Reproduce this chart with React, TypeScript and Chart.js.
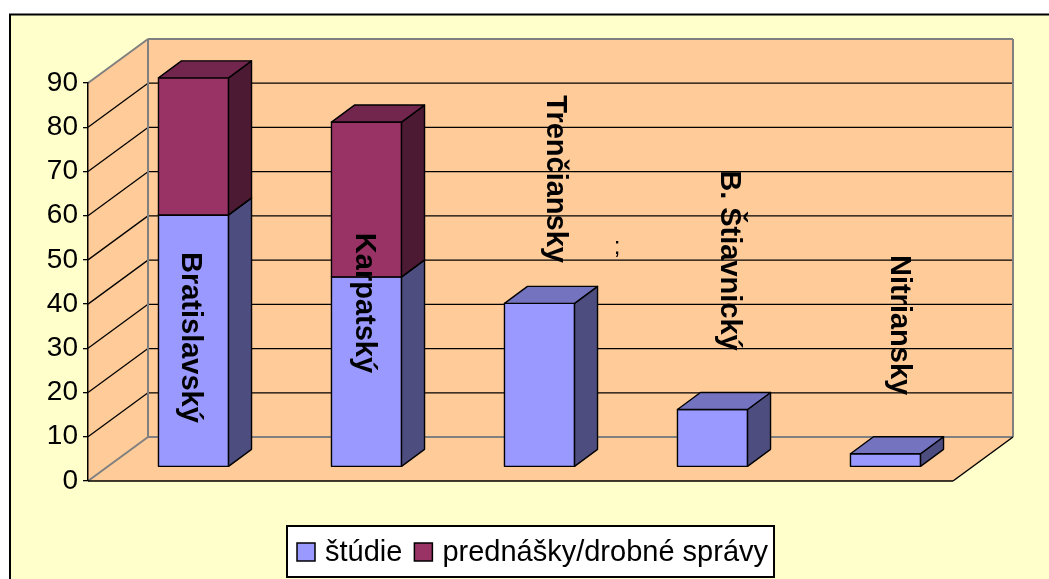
import React, { useEffect, useRef } from "react";
import { Chart, registerables } from "chart.js";

Chart.register(...registerables);

// ---- data ----
const categories = ["Bratislavský", "Karpatský", "Trenčiansky", "B. Štiavnický", "Nitriansky"];
const seriesNames = ["štúdie", "prednášky/drobné správy"];
const studieValues = [57, 43, 37, 13, 3];
const prednaskyValues = [31, 35, 0, 0, 0];
const yMin = 0;
const yMax = 90;
const yStep = 10;

// ---- placement / style constants ----
const W = 1049;
const H = 579;
const FONT = '"Liberation Sans", Arial, Helvetica, sans-serif';
const DEPTH = { x: 60, y: -44 }; // full floor depth
const BAR_FRONT = { x: 19, y: -14 }; // offset of bar front plane
const BAR_DEPTH = { x: 23, y: -17 }; // bar thickness
const WALL = "#FFCC99";
const BG = "#FFFFCC";
const EDGE_GRAY = "#808080";
const faceColors = [
  { front: "#9999FF", top: "#7373BF", side: "#4D4D80" },
  { front: "#993366", top: "#73264D", side: "#4D1A33" },
];
// category label placement (value units on bar plane, horizontal shift in px)
const labelAnchorValue = [29.3, 37.1, 65.1, 46.7, 32.1];
const labelShift = [-11.5, -10.5, 7.5, 8.5, 5.5];
const strayMark = { index: 2, text: ";", dx: 77.5, value: 48.2 };

function poly(ctx: CanvasRenderingContext2D, pts: number[][]) {
  ctx.beginPath();
  ctx.moveTo(pts[0][0], pts[0][1]);
  for (let i = 1; i < pts.length; i++) ctx.lineTo(pts[i][0], pts[i][1]);
  ctx.closePath();
}

function line(ctx: CanvasRenderingContext2D, x1: number, y1: number, x2: number, y2: number) {
  ctx.beginPath();
  ctx.moveTo(x1, y1);
  ctx.lineTo(x2, y2);
  ctx.stroke();
}

const scenePlugin = {
  id: "scene3d",
  beforeDraw(chart: any) {
    const ctx: CanvasRenderingContext2D = chart.ctx;
    const { left, right, top, bottom } = chart.chartArea;
    const yS = chart.scales.y;
    const dx = DEPTH.x;
    const dy = DEPTH.y;
    ctx.save();
    ctx.fillStyle = "#FFFFFF";
    ctx.fillRect(0, 0, W, H);
    // outer frame
    ctx.fillStyle = BG;
    ctx.fillRect(10, 14.5, W + 20, H + 20);
    ctx.strokeStyle = "#000";
    ctx.lineWidth = 2;
    ctx.strokeRect(10, 14.5, W + 20, H + 20);

    // walls + floor
    ctx.fillStyle = WALL;
    ctx.fillRect(left + dx, top + dy, right - left, bottom - top);
    poly(ctx, [[left, top], [left + dx, top + dy], [left + dx, bottom + dy], [left, bottom]]);
    ctx.fill();
    poly(ctx, [[left, bottom], [right, bottom], [right + dx, bottom + dy], [left + dx, bottom + dy]]);
    ctx.fill();

    // gridlines
    ctx.strokeStyle = "#000";
    ctx.lineWidth = 1.3;
    for (let v = yMin + yStep; v < yMax; v += yStep) {
      const y = yS.getPixelForValue(v);
      line(ctx, left, y, left + dx, y + dy);
      line(ctx, left + dx, y + dy, right + dx, y + dy);
    }

    // gray wall edges
    ctx.strokeStyle = EDGE_GRAY;
    ctx.lineWidth = 2;
    line(ctx, left, top, left + dx, top + dy);
    line(ctx, left + dx, top + dy, right + dx, top + dy);
    line(ctx, right + dx, top + dy, right + dx, bottom + dy);
    line(ctx, left + dx, bottom + dy, right + dx, bottom + dy);
    line(ctx, left + dx, top + dy, left + dx, bottom + dy);
    line(ctx, left, bottom, left + dx, bottom + dy);

    // floor front edges
    ctx.strokeStyle = "#000";
    ctx.lineWidth = 1.5;
    line(ctx, left, bottom, right, bottom);
    line(ctx, right, bottom, right + dx, bottom + dy);
    ctx.restore();
  },
  beforeDatasetsDraw(chart: any) {
    const ctx: CanvasRenderingContext2D = chart.ctx;
    const yS = chart.scales.y;
    ctx.save();
    ctx.lineWidth = 1.4;
    ctx.lineJoin = "round";
    ctx.strokeStyle = "#000";
    const n = chart.data.labels.length;
    for (let i = 0; i < n; i++) {
      chart.data.datasets.forEach((ds: any, di: number) => {
        const val = ds.data[i];
        if (!val) return;
        const el = chart.getDatasetMeta(di).data[i];
        const c = faceColors[di];
        const x0 = el.x - el.width / 2 + BAR_FRONT.x;
        const x1 = el.x + el.width / 2 + BAR_FRONT.x;
        const yt = el.y + BAR_FRONT.y;
        const yb = el.base + BAR_FRONT.y;
        const bx = BAR_DEPTH.x;
        const by = BAR_DEPTH.y;
        // front
        ctx.fillStyle = c.front;
        poly(ctx, [[x0, yt], [x1, yt], [x1, yb], [x0, yb]]);
        ctx.fill();
        ctx.stroke();
        // side
        ctx.fillStyle = c.side;
        poly(ctx, [[x1, yt], [x1 + bx, yt + by], [x1 + bx, yb + by], [x1, yb]]);
        ctx.fill();
        ctx.stroke();
        // top
        ctx.fillStyle = c.top;
        poly(ctx, [[x0, yt], [x0 + bx, yt + by], [x1 + bx, yt + by], [x1, yt]]);
        ctx.fill();
        ctx.stroke();
      });
    }

    // category labels (rotated)
    ctx.fillStyle = "#000";
    ctx.font = `bold 29px ${FONT}`;
    ctx.textAlign = "center";
    ctx.textBaseline = "alphabetic";
    const meta0 = chart.getDatasetMeta(0);
    for (let i = 0; i < n; i++) {
      const el = meta0.data[i];
      const x = el.x + BAR_FRONT.x + labelShift[i];
      const y = yS.getPixelForValue(labelAnchorValue[i]) + BAR_FRONT.y;
      ctx.save();
      ctx.translate(x, y);
      ctx.rotate(Math.PI / 2);
      ctx.fillText(chart.data.labels[i], 0, 0);
      ctx.restore();
    }
    // stray data-label mark
    {
      const el = meta0.data[strayMark.index];
      ctx.font = `24px ${FONT}`;
      ctx.fillText(
        strayMark.text,
        el.x + BAR_FRONT.x + strayMark.dx,
        yS.getPixelForValue(strayMark.value) + BAR_FRONT.y
      );
    }
    ctx.restore();
    return false;
  },
  afterDraw(chart: any) {
    const ctx: CanvasRenderingContext2D = chart.ctx;
    ctx.save();
    ctx.font = `29px ${FONT}`;
    const boxLeft = 287;
    const boxTop = 526;
    const boxH = 51;
    const sq = 18;
    const cy = boxTop + boxH / 2 + 0.5;
    let x = boxLeft + 10;
    const items: { x: number; tx: number; label: string; color: string }[] = [];
    chart.data.datasets.forEach((ds: any, di: number) => {
      const tw = ctx.measureText(ds.label).width;
      items.push({ x, tx: x + sq + 10, label: ds.label, color: faceColors[di].front });
      x += sq + 10 + tw + 12;
    });
    const boxRight = x - 12 + 6;
    ctx.fillStyle = "#fff";
    ctx.fillRect(boxLeft, boxTop, boxRight - boxLeft, boxH);
    ctx.strokeStyle = "#000";
    ctx.lineWidth = 2;
    ctx.strokeRect(boxLeft, boxTop, boxRight - boxLeft, boxH);
    ctx.textBaseline = "middle";
    ctx.textAlign = "left";
    items.forEach((it) => {
      ctx.fillStyle = it.color;
      ctx.fillRect(it.x, cy - sq / 2, sq, sq);
      ctx.lineWidth = 1.5;
      ctx.strokeRect(it.x, cy - sq / 2, sq, sq);
      ctx.fillStyle = "#000";
      ctx.fillText(it.label, it.tx, cy + 1);
    });
    ctx.restore();
  },
};

export default function App() {
  const ref = useRef<HTMLCanvasElement | null>(null);
  useEffect(() => {
    if (!ref.current) return;
    const chart = new Chart(ref.current, {
      type: "bar",
      data: {
        labels: categories,
        datasets: [
          { label: seriesNames[0], data: studieValues, backgroundColor: faceColors[0].front },
          { label: seriesNames[1], data: prednaskyValues, backgroundColor: faceColors[1].front },
        ],
      },
      options: {
        responsive: false,
        animation: false,
        devicePixelRatio: 1,
        layout: { padding: { top: 83, bottom: 98, left: 0, right: 96 } },
        datasets: { bar: { barPercentage: 0.405, categoryPercentage: 1 } },
        plugins: { legend: { display: false }, tooltip: { enabled: false }, title: { display: false } },
        scales: {
          x: { type: "category", stacked: true, display: false, offset: true },
          y: {
            stacked: true,
            min: yMin,
            max: yMax,
            afterFit: (scale: any) => {
              scale.width = 88;
            },
            ticks: {
              stepSize: yStep,
              color: "#000",
              padding: 5,
              font: { family: FONT, size: 28 },
            },
            grid: { drawOnChartArea: false, drawTicks: true, tickLength: 5, color: "#000", lineWidth: 1.3 },
            border: { display: true, color: "#000", width: 1.5 },
          },
        },
      },
      plugins: [scenePlugin],
    } as any);
    return () => chart.destroy();
  }, []);
  return (
    <div style={{ position: "fixed", left: 0, top: 0, width: W, height: H }}>
      <canvas ref={ref} width={W} height={H} style={{ display: "block" }} />
    </div>
  );
}
